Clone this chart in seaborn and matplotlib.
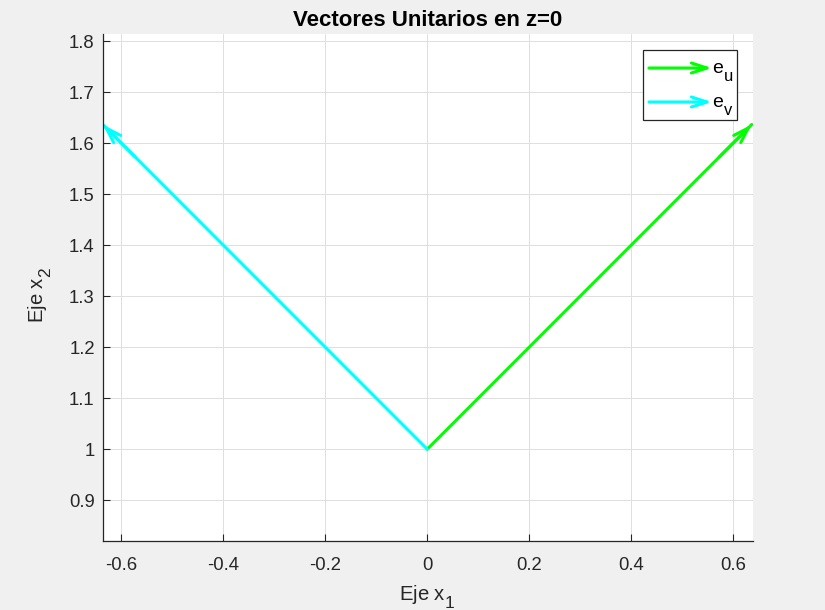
import numpy as np
import pandas as pd
import seaborn as sns
import matplotlib.pyplot as plt
import matplotlib._mathtext as mathtext_internals
from matplotlib.patches import Rectangle

sns.set_style("whitegrid")
plt.rcParams["font.family"] = ["Liberation Sans", "DejaVu Sans"]
plt.rcParams["mathtext.fontset"] = "custom"
plt.rcParams["mathtext.rm"] = "Liberation Sans"

# MATLAB puts subscripts lower and a bit larger than mathtext does
mathtext_internals.FontConstantsBase.sub1 = 0.8
mathtext_internals.SHRINK_FACTOR = 0.85

# data
origin = (0.0, 1.0)
vec_names = ["e$_\\mathregular{u}$", "e$_\\mathregular{v}$"]
vec_x = [0.6366, -0.6366]
vec_y = [0.6366, 0.6366]
vec_colors = ["#00ff00", "#00ffff"]
x_ticks = [-0.6, -0.4, -0.2, 0, 0.2, 0.4, 0.6]
x_labels = ["-0.6", "-0.4", "-0.2", "0", "0.2", "0.4", "0.6"]
y_ticks = [0.9, 1.0, 1.1, 1.2, 1.3, 1.4, 1.5, 1.6, 1.7, 1.8]
y_labels = ["0.9", "1", "1.1", "1.2", "1.3", "1.4", "1.5", "1.6", "1.7", "1.8"]
x_lim = (-0.636, 0.639)
y_lim = (0.820, 1.814)

TEXT = "#262626"
ARROW = "->,head_length=0.56,head_width=0.18"
ARROW_KW = dict(arrowstyle=ARROW, lw=2.2, mutation_scale=20, shrinkA=0, shrinkB=0)

fig = plt.figure(figsize=(8.25, 6.1), dpi=100, facecolor="#f0f0f0")
ax = fig.add_axes([0.1248, 0.1131, 0.7879, 0.8312])
ax.set_facecolor("white")

for dx, dy, c in zip(vec_x, vec_y, vec_colors):
    df = pd.DataFrame({"x": [origin[0], origin[0] + dx],
                       "y": [origin[1], origin[1] + dy]})
    sns.lineplot(data=df, x="x", y="y", color=c, lw=2.2, ax=ax,
                 sort=False, legend=False)
    ax.annotate("", xy=(origin[0] + dx, origin[1] + dy),
                xytext=(origin[0] + dx * 0.9, origin[1] + dy * 0.9),
                arrowprops=dict(color=c, **ARROW_KW), annotation_clip=False)

ax.set_xlim(*x_lim)
ax.set_ylim(*y_lim)
ax.set_xticks(x_ticks)
ax.set_yticks(y_ticks)
ax.set_xticklabels(x_labels)
ax.set_yticklabels(y_labels)
ax.grid(True, color="#dfdfdf", lw=0.7)
ax.tick_params(direction="in", length=5, width=0.8, colors=TEXT,
               labelsize=13.3, bottom=True, left=True)
ax.tick_params(axis="x", pad=11.5)
ax.tick_params(axis="y", pad=6)
for s in ["top", "right"]:
    ax.spines[s].set_visible(False)
for s in ["left", "bottom"]:
    ax.spines[s].set_color(TEXT)
    ax.spines[s].set_linewidth(0.9)

ax.set_title("Vectores Unitarios en z=0", fontsize=16, fontweight="bold",
             color="black", pad=5.8)
ax.set_xlabel("Eje x$_\\mathregular{1}$", fontsize=14.6, color=TEXT)
ax.set_ylabel("Eje x$_\\mathregular{2}$", fontsize=14.6, color=TEXT)
ax.xaxis.set_label_coords(0.4985, -0.0833)
ax.yaxis.set_label_coords(-0.0751, 0.485)

# legend box drawn by hand, MATLAB style (arrow glyphs, low subscripts)
ax.add_patch(Rectangle((0.8308, 0.8304), 0.1446, 0.138, transform=ax.transAxes,
                       facecolor="white", edgecolor=TEXT, lw=0.9, zorder=5))
row_mid = [0.9329, 0.8659]
row_base = [0.9231, 0.8560]
for name, c, ym, yb in zip(vec_names, vec_colors, row_mid, row_base):
    ax.annotate("", xy=(0.9369, ym), xytext=(0.8400, ym),
                xycoords="axes fraction", arrowprops=dict(color=c, **ARROW_KW),
                zorder=6)
    ax.text(0.9377, yb, name, transform=ax.transAxes, fontsize=14,
            va="baseline", ha="left", color="black", zorder=6)

fig.savefig("out.png", dpi=100, facecolor=fig.get_facecolor())
